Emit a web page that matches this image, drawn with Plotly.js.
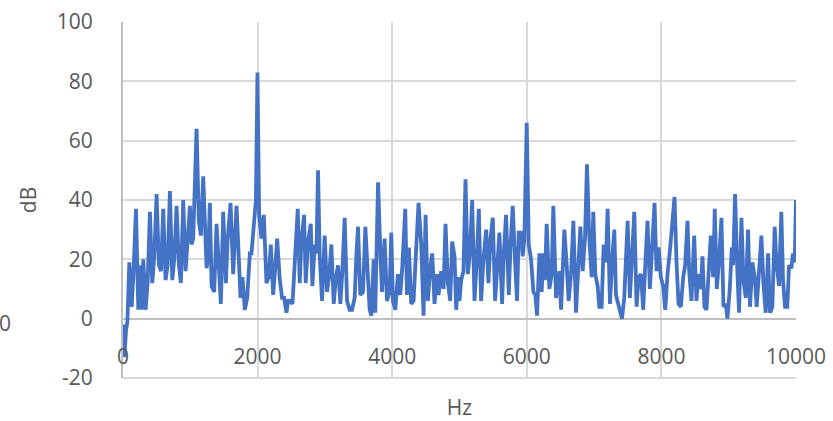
<!DOCTYPE html>
<html>
<head>
<meta charset="utf-8">
<script src="https://cdn.plot.ly/plotly-3.0.1.min.js"></script>
<style>html,body{margin:0;padding:0;background:#fff;overflow:hidden}</style>
</head>
<body>
<div id="chart" style="width:833px;height:421px"></div>
<script>
const freqHz = [0,20,45,65,94,129,153,193,227,252,277,302,336,366,400,435,465,499,534,564,598,633,663,697,732,762,796,831,860,895,930,959,994,1019,1043,1093,1127,1157,1192,1242,1266,1291,1316,1355,1390,1454,1489,1529,1553,1598,1637,1687,1712,1746,1776,1810,1845,1885,1909,1944,1975,1998,2023,2058,2092,2132,2166,2196,2231,2265,2290,2330,2364,2394,2429,2453,2478,2518,2552,2597,2626,2651,2691,2715,2750,2790,2814,2849,2874,2898,2923,2958,2997,3032,3061,3096,3131,3160,3195,3230,3259,3294,3329,3368,3403,3442,3467,3492,3526,3566,3601,3635,3665,3690,3725,3748,3790,3828,3848,3887,3922,3962,3986,4011,4046,4085,4120,4149,4194,4219,4248,4283,4318,4357,4392,4431,4466,4496,4530,4565,4594,4629,4664,4688,4728,4763,4792,4827,4862,4891,4926,4951,4985,5000,5025,5059,5089,5124,5158,5188,5223,5257,5287,5321,5356,5396,5430,5460,5495,5529,5559,5593,5633,5658,5692,5732,5757,5791,5826,5855,5880,5915,5940,5964,5999,6029,6063,6098,6127,6152,6187,6221,6246,6270,6295,6335,6370,6394,6434,6484,6509,6533,6558,6593,6622,6657,6692,6731,6766,6796,6830,6865,6894,6929,6964,6988,7018,7053,7077,7112,7142,7176,7201,7236,7265,7300,7325,7364,7389,7414,7448,7473,7498,7532,7562,7597,7631,7661,7696,7730,7760,7794,7829,7859,7898,7928,7958,7992,8027,8057,8091,8131,8195,8225,8254,8289,8324,8353,8388,8413,8447,8487,8521,8551,8586,8610,8640,8670,8699,8734,8769,8793,8823,8858,8892,8922,8957,8981,9016,9046,9065,9095,9130,9154,9189,9219,9253,9288,9317,9352,9387,9416,9451,9486,9515,9550,9585,9614,9649,9683,9713,9748,9782,9807,9837,9871,9896,9931,9955,9980,10000];
const levelDb = [-2,-13,-4,-1,19,4,14,37,3,18,3,20,3,12,36,12,21,42,18,16,37,13,18,43,13,20,38,18,12,40,16,25,38,25,27,64,33,28,48,17,21,39,11,9,32,5,36,12,26,39,15,38,23,7,14,3,7,22,22,34,40,83,35,27,35,12,14,25,8,18,27,13,7,7,2,6,6,5,17,37,12,26,35,12,26,32,11,25,22,50,21,6,28,9,14,25,5,13,18,5,16,34,6,3,3,7,21,31,8,9,31,14,3,1,20,2,46,20,9,27,6,9,29,6,3,15,8,17,37,8,24,5,6,24,39,25,1,35,6,17,22,5,15,8,16,10,32,12,6,26,21,3,14,6,13,16,47,15,23,40,6,20,37,6,20,30,12,27,34,6,19,29,5,22,35,8,24,38,19,6,29,29,21,27,66,25,20,9,8,1,22,9,22,13,32,10,15,38,7,16,3,18,30,18,6,15,33,2,17,31,16,27,52,27,14,36,15,11,4,4,25,19,37,5,18,30,8,4,2,0,7,24,33,7,19,36,4,14,15,3,18,33,10,24,39,16,24,14,11,3,15,24,41,19,5,4,14,18,33,16,6,28,6,15,10,21,4,3,13,28,14,37,10,20,34,4,5,0,10,24,18,42,15,2,34,13,7,30,4,19,14,4,16,28,12,2,22,2,4,31,18,11,36,13,4,4,18,17,22,19,40];
const xTicks = [0,2000,4000,6000,8000,10000];
const xTickText = ['0','2000','4000','6000','8000','10000'];
const yTicks = [-20,0,20,40,60,80,100];
const yTickText = ['-20','0','20','40','60','80','100'];

const FONT = 'Open Sans, Noto Sans, sans-serif';
const txt = {family: FONT, size: 21, color: '#595959'};

const trace = {
  x: freqHz, y: levelDb, type: 'scatter', mode: 'lines',
  line: {color: '#4472C4', width: 3.8},
  hoverinfo: 'skip', showlegend: false
};

const layout = {
  width: 833, height: 421,
  margin: {l: 123, r: 37, t: 22, b: 43, pad: 0},
  paper_bgcolor: '#ffffff', plot_bgcolor: '#ffffff',
  showlegend: false,
  xaxis: {
    range: [0, 10000], tickmode: 'array', tickvals: xTicks, ticktext: xTickText,
    anchor: 'free', position: 0.1,
    showgrid: true, gridcolor: '#d9d9d9', gridwidth: 2,
    zeroline: false, showline: false, ticks: '',
    tickfont: txt,
    title: {text: 'Hz', font: txt, standoff: 30},
    automargin: false
  },
  yaxis: {
    range: [-20, 100], tickmode: 'array', tickvals: yTicks, ticktext: yTickText,
    showgrid: true, gridcolor: '#d9d9d9', gridwidth: 2,
    zeroline: true, zerolinecolor: '#bfbfbf', zerolinewidth: 2,
    showline: true, linecolor: '#bfbfbf', linewidth: 2,
    ticks: '', ticklabelstandoff: 24,
    tickfont: txt,
    title: {text: 'dB', font: txt, standoff: 14},
    automargin: false
  },
  shapes: [{
    type: 'line', xref: 'paper', yref: 'paper', x0: 0, x1: 1, y0: 0, y1: 0,
    line: {color: '#d9d9d9', width: 2}, layer: 'below'
  }],
  annotations: [{
    text: '100', xref: 'paper', yref: 'paper',
    x: (13 - 123) / 673, y: (378 - 323) / 356,
    xanchor: 'right', yanchor: 'middle', showarrow: false, font: txt
  }]
};

Plotly.newPlot('chart', [trace], layout, {staticPlot: true, displayModeBar: false});
</script>
</body>
</html>
